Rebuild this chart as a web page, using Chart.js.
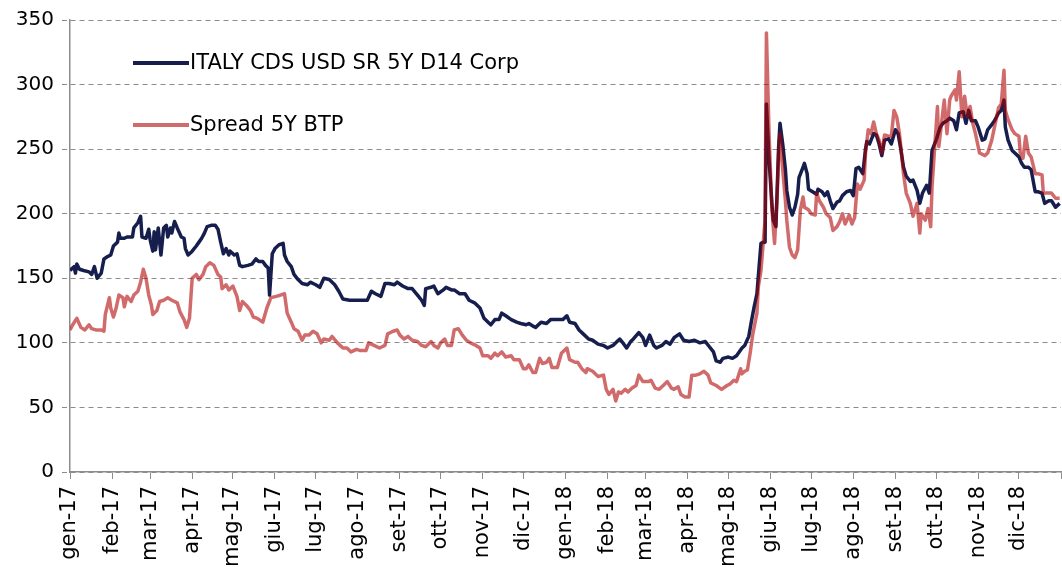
<!DOCTYPE html>
<html>
<head>
<meta charset="utf-8">
<script src="https://cdn.jsdelivr.net/npm/chart.js@4.4.1/dist/chart.umd.min.js"></script>
<style>
  html, body { margin: 0; padding: 0; background: #fff; }
  #wrap { width: 1062px; height: 567px; position: relative; }
</style>
</head>
<body>
<div id="wrap"><canvas id="spreadChart"></canvas></div>
<script>
// Month tick labels (gen-17 .. dic-18)
const monthLabels = ["gen-17", "feb-17", "mar-17", "apr-17", "mag-17", "giu-17", "lug-17", "ago-17", "set-17", "ott-17", "nov-17", "dic-17",
  "gen-18", "feb-18", "mar-18", "apr-18", "mag-18", "giu-18", "lug-18", "ago-18", "set-18", "ott-18", "nov-18", "dic-18"];

const yTicks = [0, 50, 100, 150, 200, 250, 300, 350];

// ITALY CDS USD SR 5Y D14 Corp (x = days since 1 Jan 2017)
const cdsDays = [0, 3, 4, 5, 7, 10, 14, 16, 18, 20, 23, 25, 28, 30, 32, 35, 36, 37, 40, 42, 46, 47, 50, 52, 53, 56, 58, 59, 61, 62, 63, 65, 67, 69, 71, 72, 74, 75, 77, 79, 82, 84, 85, 87, 90, 93, 95, 97, 99, 101, 104, 107, 109, 111, 113, 115, 117, 118, 121, 123, 125, 127, 131, 134, 137, 139, 142, 144, 146, 147, 149, 151, 154, 157, 158, 160, 163, 165, 168, 171, 175, 177, 181, 184, 187,
  191, 195, 198, 201, 206, 211, 216, 219, 222, 225, 229, 232, 235, 239, 241, 245, 249, 252, 256, 259, 261, 262, 266, 268, 271, 275, 277, 281, 283, 287, 291, 294, 298, 302, 305, 308, 310, 313, 316, 318, 321, 325, 329, 332, 336, 338, 341, 343, 347, 351, 354, 359, 363, 366, 368, 372, 375, 379, 382,
  385, 389, 393, 396, 400, 403, 405, 408, 410, 413, 415, 419, 422, 424, 427, 430, 432, 436, 439, 442, 445, 449, 452, 456, 460, 464, 468, 471, 474, 476, 479, 481, 485, 488, 491, 495, 497, 500, 502, 504, 506,
  507, 509, 511, 512, 513, 515, 517, 518, 520, 521, 522, 523, 525, 527, 528, 530, 532, 534, 536, 537, 540, 541, 543, 544, 547, 550, 551, 554, 556, 558, 560, 562, 565, 567, 569, 572, 575, 577, 579, 581, 584, 586, 587, 589, 592, 594, 596, 598, 600, 603, 605, 608, 610,
  612, 614, 616, 619, 621, 624, 626, 628, 631, 633, 635, 638, 641, 643, 646, 648, 651, 653, 655, 658, 660, 662, 664, 667, 669, 672, 674, 676, 679, 681, 684, 686, 688, 689, 691, 694, 696, 699, 701, 703, 706, 708, 711, 713, 716, 718, 721, 723, 726, 729];
const cdsValues = [156, 159, 154, 161, 157, 156, 155, 153, 159, 150, 154, 165, 167, 168, 175, 178, 185, 181, 181, 182, 182, 189, 193, 198, 182, 181, 188, 180, 171, 186, 172, 189, 168, 189, 191, 182, 189, 185, 194, 189, 182, 181, 173, 168, 171, 175, 178, 181, 185, 190, 191, 191, 188, 178, 169, 173, 168, 171, 168, 169, 160, 159, 160, 161, 165, 163, 163, 160, 158, 137, 169, 173, 176, 177, 168, 163, 159, 153, 149, 146, 145, 147, 145, 143, 150,
  149, 145, 140, 134, 133, 133, 133, 133, 140, 138, 136, 146, 146, 145, 147, 144, 142, 142, 137, 133, 129, 142, 143, 144, 138, 141, 143, 141, 141, 138, 138, 133, 131, 127, 119, 116, 114, 118, 118, 123, 121, 118, 116, 115, 114, 115, 113, 112, 116, 115, 118, 118, 118, 121, 116, 115, 110, 106, 103,
  102, 99, 98, 96, 98, 101, 103, 99, 96, 101, 103, 108, 104, 98, 106, 98, 96, 98, 101, 99, 104, 107, 102, 101, 102, 100, 101, 97, 93, 86, 85, 88, 89, 88, 90, 96, 98, 105, 117, 128, 138,
  151, 177, 178, 178, 285, 241, 208, 195, 190, 221, 252, 270, 254, 234, 218, 205, 199, 205, 215, 228, 236, 239, 231, 219, 217, 215, 219, 217, 214, 217, 210, 204, 209, 210, 214, 217, 218, 214, 235, 236, 231, 250, 256, 254, 262, 261, 254, 245, 257, 258, 254, 265, 262,
  250, 236, 229, 225, 226, 218, 208, 216, 222, 216, 249, 257, 267, 270, 272, 274, 272, 265, 278, 279, 270, 280, 272, 272, 267, 257, 258, 265, 269, 272, 278, 280, 288, 267, 257, 249, 247, 244, 239, 236, 236, 234, 217, 217, 216, 208, 210, 210, 205, 208];

// Spread 5Y BTP
const btpDays = [0, 2, 5, 8, 11, 14, 16, 19, 23, 25, 26, 29, 30, 32, 34, 36, 39, 40, 42, 45, 47, 50, 52, 54, 56, 58, 60, 61, 64, 66, 69, 72, 75, 79, 81, 84, 86, 88, 90, 93, 95, 98, 100, 103, 106, 109, 111, 112, 115, 117, 120, 123, 125, 127, 130, 133, 135, 138, 142, 145, 148, 152, 155, 158, 160, 163, 165, 168, 171, 173, 176, 179, 182, 185, 187, 191,
  193, 197, 201, 204, 207, 211, 214, 218, 220, 224, 228, 232, 234, 238, 241, 243, 246, 249, 252, 256, 259, 262, 266, 268, 271, 273, 276, 278, 281, 283, 286, 289, 292, 295, 299, 302, 304, 308, 310, 313, 315, 318, 321, 325, 327, 331, 334, 336, 338, 341, 343, 346, 348, 351, 353, 355, 359, 362, 366, 368, 372, 374, 377, 380,
  381, 385, 389, 393, 395, 397, 400, 402, 404, 406, 409, 411, 414, 417, 419, 422, 426, 428, 431, 434, 437, 440, 443, 445, 448, 450, 453, 456, 458, 461, 464, 467, 470, 472, 476, 480, 484, 486, 489, 491, 494, 495, 497, 499, 501, 503, 506,
  507, 509, 511, 512, 513, 515, 517, 518, 519, 521, 522, 523, 525, 527, 528, 530, 532, 534, 536, 538, 540, 541, 544, 546, 549, 550, 552, 555, 557, 560, 562, 565, 567, 569, 571, 574, 576, 578, 580, 582, 585, 586, 588, 590, 592, 594, 596, 598, 600, 603, 605, 607, 609,
  611, 614, 616, 619, 621, 624, 626, 627, 630, 632, 634, 635, 637, 639, 640, 642, 644, 646, 648, 649, 652, 653, 655, 657, 659, 661, 663, 665, 667, 670, 674, 676, 679, 681, 684, 686, 688, 689, 691, 694, 696, 699, 700, 702, 704, 706, 708, 711, 713, 716, 717, 719, 723, 726, 729];
const btpValues = [110, 114, 119, 112, 110, 114, 111, 110, 110, 109, 122, 135, 127, 120, 127, 137, 135, 128, 136, 132, 137, 140, 147, 157, 150, 137, 129, 122, 125, 132, 133, 135, 133, 131, 124, 118, 112, 119, 150, 153, 149, 153, 159, 162, 160, 153, 151, 142, 145, 141, 144, 136, 125, 132, 129, 125, 120, 119, 116, 127, 135, 136, 137, 138, 123, 116, 111, 109, 102, 106, 106, 109, 107, 100, 103, 102,
  105, 100, 96, 96, 93, 95, 94, 94, 100, 98, 96, 98, 107, 109, 110, 106, 103, 105, 102, 101, 98, 97, 101, 98, 96, 100, 103, 98, 98, 110, 111, 106, 102, 100, 98, 96, 90, 90, 88, 92, 90, 93, 89, 90, 87, 87, 80, 80, 83, 77, 77, 88, 84, 85, 88, 81, 81, 92, 96, 87, 85, 85, 80, 77,
  80, 78, 74, 75, 64, 60, 64, 55, 62, 61, 64, 62, 65, 67, 75, 70, 70, 71, 65, 64, 67, 70, 65, 64, 66, 60, 58, 58, 75, 75, 76, 78, 75, 69, 67, 64, 67, 68, 71, 70, 80, 76, 78, 79, 92, 107, 123,
  143, 156, 182, 195, 340, 260, 205, 190, 177, 216, 247, 262, 234, 210, 195, 174, 168, 166, 172, 203, 213, 205, 203, 200, 199, 216, 210, 205, 200, 197, 187, 190, 194, 200, 192, 199, 192, 197, 223, 219, 226, 247, 265, 262, 271, 262, 257, 247, 261, 260, 260, 280, 275,
  262, 231, 216, 208, 198, 208, 185, 200, 195, 204, 190, 221, 252, 283, 252, 270, 288, 262, 288, 291, 296, 288, 310, 275, 291, 275, 283, 270, 262, 247, 245, 247, 257, 267, 282, 285, 311, 280, 273, 265, 262, 260, 247, 243, 260, 247, 244, 231, 231, 230, 216, 216, 216, 212, 212];

const FONT = "'DejaVu Sans', sans-serif";

function toPoints(xs, ys) {
  return xs.map((x, i) => ({ x: x, y: ys[i] }));
}

// month start offsets in days from 1 Jan 2017 (25 ticks, last one unlabeled)
const monthStarts = [];
for (let m = 0; m <= 24; m++) {
  monthStarts.push((Date.UTC(2017, m, 1) - Date.UTC(2017, 0, 1)) / 86400000);
}

// Legend drawn inside the plot, stacked vertically
const insideLegend = {
  id: "insideLegend",
  afterDraw(chart) {
    const ctx = chart.ctx;
    const rows = [63, 125];
    ctx.save();
    chart.data.datasets.forEach((ds, i) => {
      const y = rows[i];
      ctx.strokeStyle = ds.legendColor;
      ctx.lineWidth = 4;
      ctx.beginPath();
      ctx.moveTo(133, y);
      ctx.lineTo(189, y);
      ctx.stroke();
      ctx.fillStyle = "#000";
      ctx.font = "21px " + FONT;
      ctx.textBaseline = "middle";
      ctx.textAlign = "left";
      ctx.fillText(ds.label, 190, y + 1);
    });
    ctx.restore();
  },
};

document.addEventListener("DOMContentLoaded", function () {
  const ctx = document.getElementById("spreadChart");
  new Chart(ctx, {
    type: "line",
    data: {
      datasets: [
        {
          label: "ITALY CDS USD SR 5Y D14 Corp",
          data: toPoints(cdsDays, cdsValues),
          borderColor: "#161e4e",
          legendColor: "#161e4e",
          borderWidth: 3.5,
          pointRadius: 0,
          tension: 0,
          borderJoinStyle: "round",
          order: 2,
        },
        {
          label: "Spread 5Y BTP",
          data: toPoints(btpDays, btpValues),
          borderColor: "rgba(175, 0, 0, 0.58)",
          legendColor: "rgba(175, 0, 0, 0.58)",
          borderWidth: 3.5,
          pointRadius: 0,
          tension: 0,
          borderJoinStyle: "round",
          order: 1,
        },
      ],
    },
    options: {
      responsive: true,
      maintainAspectRatio: false,
      animation: false,
      layout: { padding: { top: 20, right: 1, left: 0, bottom: 0 } },
      plugins: {
        legend: { display: false },
        tooltip: { enabled: false },
      },
      scales: {
        x: {
          type: "linear",
          min: 0,
          max: 730,
          afterBuildTicks: (scale) => {
            scale.ticks = monthStarts.map((v) => ({ value: v }));
          },
          afterFit: (scale) => {
            scale.height = 95;
            scale.paddingLeft = 0;
            scale.paddingRight = 0;
          },
          ticks: {
            autoSkip: false,
            minRotation: 90,
            maxRotation: 90,
            padding: 7,
            color: "#000",
            font: { family: FONT, size: 21 },
            callback: (value, index) => monthLabels[index] || "",
          },
          grid: {
            drawOnChartArea: false,
            drawTicks: true,
            tickLength: 7,
            color: "#8c8c8c",
          },
          border: { display: true, color: "#8c8c8c", width: 1.5 },
        },
        y: {
          min: 0,
          max: 350,
          afterBuildTicks: (scale) => {
            scale.ticks = yTicks.map((v) => ({ value: v }));
          },
          afterFit: (scale) => {
            scale.width = 70;
          },
          ticks: {
            padding: 8,
            color: "#000",
            font: { family: FONT, size: 20 },
          },
          grid: {
            color: "#8c8c8c",
            lineWidth: 1,
            tickLength: 8,
            tickBorderDash: [5, 4],
          },
          border: { display: true, color: "#8c8c8c", width: 1.5, dash: [5, 4] },
        },
      },
    },
    plugins: [insideLegend],
  });
});
</script>
</body>
</html>
